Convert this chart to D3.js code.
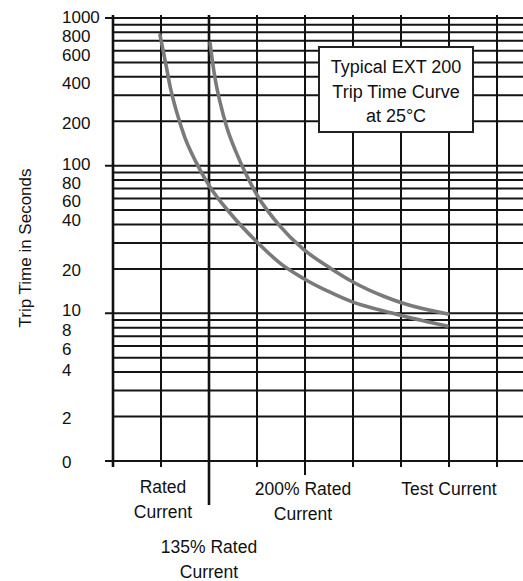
<!DOCTYPE html>
<html>
<head>
<meta charset="utf-8">
<script src="https://cdn.jsdelivr.net/npm/d3@7"></script>
<style>
  body { margin: 0; background: #fff; }
  text { font-family: "Liberation Sans", Arial, sans-serif; fill: #111; }
</style>
</head>
<body>
<div id="chart"></div>
<script>
// y axis ticks (log scale, bottom tick is printed as "0")
var yTickValues = [1, 2, 4, 6, 8, 10, 20, 40, 60, 80, 100, 200, 400, 600, 800, 1000];
var yTickLabels = ["0", "2", "4", "6", "8", "10", "20", "40", "60", "80", "100", "200", "400", "600", "800", "1000"];

// x axis: 9 grid columns, some of them named
var xCategories = [["Rated", "Current"], ["135% Rated", "Current"], ["200% Rated", "Current"], ["Test Current"]];
var xCategoryIndex = [1, 2, 4, 7];

// trip time curves (x = column index, y = seconds)
var ratedX = [0.979, 1.042, 1.104, 1.188, 1.333, 1.5, 1.708, 2.021, 2.4375, 3.0, 3.479, 3.958, 4.521, 5.0, 5.625, 6.042, 6.958];
var ratedY = [767, 607, 481, 346, 227, 154, 109, 71.7, 47.8, 30.4, 21.9, 17.3, 13.9, 11.9, 10.4, 9.6, 8.2];

var upperX = [2.021, 2.0625, 2.125, 2.229, 2.375, 2.5625, 2.792, 3.0, 3.479, 3.958, 4.521, 5.0, 5.625, 6.042, 6.979];
var upperY = [677, 536, 392, 270, 180, 124, 85, 63.3, 39, 27.3, 20.3, 16.3, 13.1, 11.7, 9.9];

var svgWidth = 523;
var svgHeight = 581;

var svg = d3.select("#chart")
    .append("svg")
    .attr("width", svgWidth)
    .attr("height", svgHeight);

// scales
var xScale = d3.scaleLinear().domain([0, 8]).range([113, 497]);
var yScale = d3.scaleLog().domain([1, 1000]).range([461, 18]);

// horizontal grid, every log step
var gridValues = yScale.ticks();
svg.append("g")
    .selectAll("line")
    .data(gridValues)
    .enter()
    .append("line")
    .attr("x1", d => (Math.log10(d) % 1 === 0) ? 105 : xScale(0))
    .attr("x2", svgWidth)
    .attr("y1", d => yScale(d))
    .attr("y2", d => yScale(d))
    .attr("stroke", "#151515")
    .attr("stroke-width", 2);

// vertical grid; the 135% and 200% columns hang lower
var columns = d3.range(9);
svg.append("g")
    .selectAll("line")
    .data(columns)
    .enter()
    .append("line")
    .attr("x1", d => xScale(d))
    .attr("x2", d => xScale(d))
    .attr("y1", 15)
    .attr("y2", d => d === 2 ? 505 : (d === 4 ? 475 : 467))
    .attr("stroke", "#111")
    .attr("stroke-width", d => (d === 0 || d === 2) ? 2.6 : 2);

// y tick labels, left aligned; the printed labels sit a little off their lines
var labelNudge = {1: 1, 2: 1.5, 4: -2, 6: 3, 8: 2.5, 10: -3, 20: 1, 40: -5, 60: 2, 80: 3, 100: -2, 200: 2, 400: 6, 600: 4, 800: 3.5, 1000: -1};
svg.append("g")
    .selectAll("text")
    .data(yTickValues)
    .enter()
    .append("text")
    .attr("x", 62)
    .attr("y", d => yScale(d) + labelNudge[d])
    .attr("dy", "0.36em")
    .attr("font-size", "17px")
    .text((d, i) => yTickLabels[i]);

// y axis title
svg.append("text")
    .attr("transform", "translate(31,248) rotate(-90)")
    .attr("text-anchor", "middle")
    .attr("font-size", "17px")
    .text("Trip Time in Seconds");

// x category labels
xCategories.forEach(function(lines, i) {
    var base = i === 1 ? 553 : (i === 0 ? 493 : 495);
    var t = svg.append("text")
        .attr("text-anchor", "middle")
        .attr("font-size", "17.5px");
    lines.forEach(function(s, j) {
        t.append("tspan")
            .attr("x", xScale(xCategoryIndex[i]) + (i === 0 ? 2 : (i === 2 ? -2 : 0)))
            .attr("y", base + j * 25)
            .text(s);
    });
});

// curves
var line = d3.line()
    .x(d => xScale(d[0]))
    .y(d => yScale(d[1]))
    .curve(d3.curveMonotoneX);

[[ratedX, ratedY], [upperX, upperY]].forEach(function(s) {
    svg.append("path")
        .datum(d3.zip(s[0], s[1]))
        .attr("d", line)
        .attr("fill", "none")
        .attr("stroke", "#7a7a7a")
        .attr("stroke-width", 3.6)
        .attr("stroke-linecap", "round");
});

// note box
svg.append("rect")
    .attr("x", 319)
    .attr("y", 47)
    .attr("width", 154)
    .attr("height", 85)
    .attr("fill", "#fff")
    .attr("stroke", "#222")
    .attr("stroke-width", 2);

var note = svg.append("text")
    .attr("text-anchor", "middle")
    .attr("font-size", "18px");
["Typical EXT 200", "Trip Time Curve", "at 25\u00B0C"].forEach(function(s, j) {
    note.append("tspan")
        .attr("x", 396)
        .attr("y", 73 + j * 24.5)
        .text(s);
});
</script>
</body>
</html>
